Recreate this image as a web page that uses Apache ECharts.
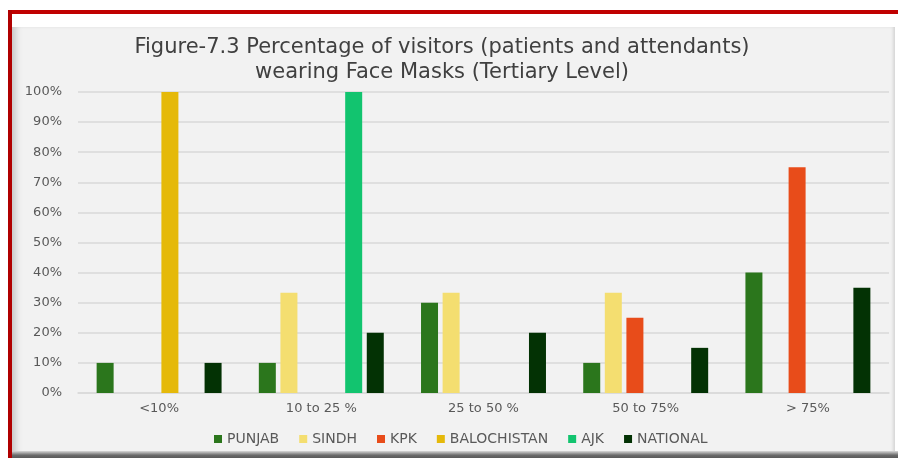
<!DOCTYPE html>
<html>
<head>
<meta charset="utf-8">
<script src="https://cdn.jsdelivr.net/npm/echarts@6/dist/echarts.min.js"></script>
<style>
  html, body { margin: 0; padding: 0; background: #ffffff; }
  #wrap { position: relative; width: 898px; height: 458px; overflow: hidden; }
  .red-top { position: absolute; left: 8px; top: 10px; width: 890px; height: 4px; background: #c00000; }
  .red-left { position: absolute; left: 8px; top: 10px; width: 4px; height: 448px; background: #b00000; }
  .panel {
    position: absolute; left: 12px; top: 27px; width: 883px; height: 426px;
    background: #f2f2f2;
    box-shadow: inset 8px 0 6px -4px #c8c8c8, inset -3px 0 3px -1px #d6d6d6;
  }
  .bottom-bar { position: absolute; left: 12px; top: 451px; width: 886px; height: 7px;
    background: linear-gradient(#d8d8d8, #6a6a6a 60%, #5a5a5a); }
  #chart { position: absolute; left: 0; top: 0; width: 898px; height: 458px; }
</style>
</head>
<body>
<div id="wrap">
  <div class="red-top"></div>
  <div class="red-left"></div>
  <div class="panel"></div>
  <div class="bottom-bar"></div>
  <div id="chart"></div>
</div>
<script>
  // 类目与各地区数据(百分比)
  const categories = ['<10%', '10 to 25 %', '25 to 50 %', '50 to 75%', '> 75%']
  const punjab = [10, 10, 30, 10, 40]
  const sindh = [0, 33.3, 33.3, 33.3, 0]
  const kpk = [0, 0, 0, 25, 75]
  const balochistan = [100, 0, 0, 0, 0]
  const ajk = [0, 100, 0, 0, 0]
  const national = [10, 20, 20, 15, 35]

  const seriesList = [
    { name: 'PUNJAB', data: punjab, color: '#2b761c' },
    { name: 'SINDH', data: sindh, color: '#f4de70' },
    { name: 'KPK', data: kpk, color: '#e84c1a' },
    { name: 'BALOCHISTAN', data: balochistan, color: '#e5b90a' },
    { name: 'AJK', data: ajk, color: '#12c46f' },
    { name: 'NATIONAL', data: national, color: '#033204' }
  ]

  const font = 'DejaVu Sans'
  const MyEcharts = echarts.init(document.getElementById('chart'))
  const option = {
    animation: false,
    textStyle: { fontFamily: font },
    title: {
      text: 'Figure-7.3 Percentage of visitors (patients and attendants)\nwearing Face Masks (Tertiary Level)',
      left: 437,
      textAlign: 'center',
      top: 30,
      textStyle: {
        fontFamily: font,
        fontSize: 21,
        lineHeight: 25,
        fontWeight: 'normal',
        color: '#404040'
      }
    },
    legend: {
      left: 209,
      top: 427,
      itemWidth: 8,
      itemHeight: 8,
      itemGap: 20,
      icon: 'rect',
      textStyle: { fontSize: 14, color: '#595959', fontFamily: font },
      data: seriesList.map(s => s.name)
    },
    grid: {
      left: 78,
      right: 9,
      top: 92,
      bottom: 65,
      containLabel: false
    },
    xAxis: {
      type: 'category',
      data: categories,
      axisLine: { lineStyle: { color: '#d9d9d9', width: 1.5 } },
      axisTick: { show: false },
      axisLabel: { color: '#595959', fontSize: 13, margin: 9, interval: 0 }
    },
    yAxis: {
      type: 'value',
      min: 0,
      max: 100,
      interval: 10,
      axisLine: { show: false },
      axisTick: { show: false },
      axisLabel: { formatter: '{value}%', color: '#595959', fontSize: 13, margin: 16 },
      splitLine: { lineStyle: { color: '#d9d9d9', width: 1.5 } }
    },
    series: seriesList.map(s => ({
      name: s.name,
      type: 'bar',
      data: s.data,
      barWidth: 17,
      barGap: '27%',
      itemStyle: { color: s.color }
    }))
  }
  MyEcharts.setOption(option)
</script>
</body>
</html>
